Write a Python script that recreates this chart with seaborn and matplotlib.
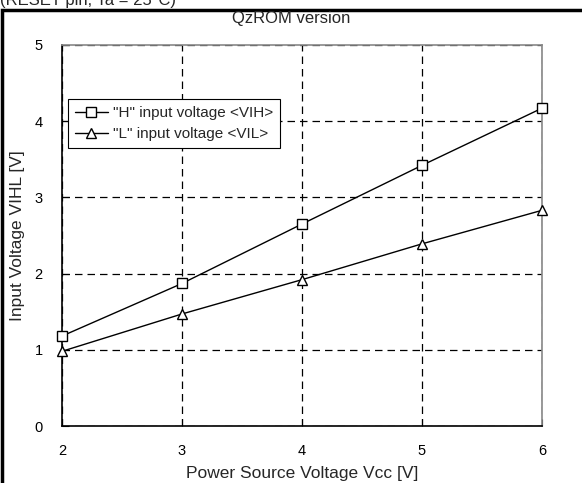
import pandas as pd
import numpy as np
import seaborn as sns
import matplotlib.pyplot as plt
from matplotlib.patches import Rectangle

# datos
vcc = [2, 3, 4, 5, 6]
vih = [1.18, 1.87, 2.65, 3.42, 4.17]
vil = [0.98, 1.47, 1.92, 2.39, 2.83]
series = ['"H" input voltage <VIH>', '"L" input voltage <VIL>']

df = pd.DataFrame({
    'Vcc': vcc * 2,
    'V': vih + vil,
    'serie': [series[0]] * len(vcc) + [series[1]] * len(vcc),
})

sns.set_style("white")
plt.rcParams['font.family'] = ['Liberation Sans', 'DejaVu Sans']

fig = plt.figure(figsize=(5.82, 4.83), dpi=100)
ax = fig.add_axes([0.1065, 0.118, 0.8248, 0.789])

sns.lineplot(
    data=df, x='Vcc', y='V', hue='serie', style='serie',
    markers=['s', '^'], dashes=False,
    palette=['black', 'black'], linewidth=1,
    markersize=7.5, markerfacecolor='white', markeredgecolor='black',
    markeredgewidth=1, ax=ax, zorder=3, clip_on=False,
)

ax.set_xlim(2, 6)
ax.set_ylim(0, 5)
ax.set_xticks([2, 3, 4, 5, 6])
ax.set_yticks([0, 1, 2, 3, 4, 5])
ax.grid(True, color='black', linestyle=(0, (6, 4)), linewidth=0.9)
ax.tick_params(direction='in', length=5, labelsize=10.5,
               bottom=True, left=True, colors='black')
ax.tick_params(axis='x', pad=13)
ax.tick_params(axis='y', pad=14)
for s in ['left', 'bottom']:
    ax.spines[s].set_color('black')
    ax.spines[s].set_linewidth(1.2)
for s in ['top', 'right']:
    ax.spines[s].set_color('#888888')
    ax.spines[s].set_linewidth(1.2)

ax.set_xlabel('Power Source Voltage Vcc [V]', fontsize=12.5, labelpad=6)
ax.set_ylabel('Input Voltage VIHL [V]', fontsize=12.5, labelpad=7)

leg = ax.legend(loc='upper left', bbox_to_anchor=(-0.004, 0.877), fontsize=11,
                frameon=True, fancybox=False, edgecolor='black',
                framealpha=1, handlelength=2.2, borderpad=0.45,
                labelspacing=0.45, handletextpad=0.3)
leg.get_frame().set_linewidth(0.8)

fig.text(0.5, 0.962, 'QzROM version', ha='center', va='center', fontsize=12)
fig.text(0.0, 1.0, '(RESET pin, Ta = 25°C)', ha='left', va='center', fontsize=12)

# marco exterior
fig.patches.append(Rectangle((0.004, -0.1), 1.1, 1.0793, transform=fig.transFigure,
                             fill=False, edgecolor='black', linewidth=2.5))

plt.savefig('out.png', dpi=100)
